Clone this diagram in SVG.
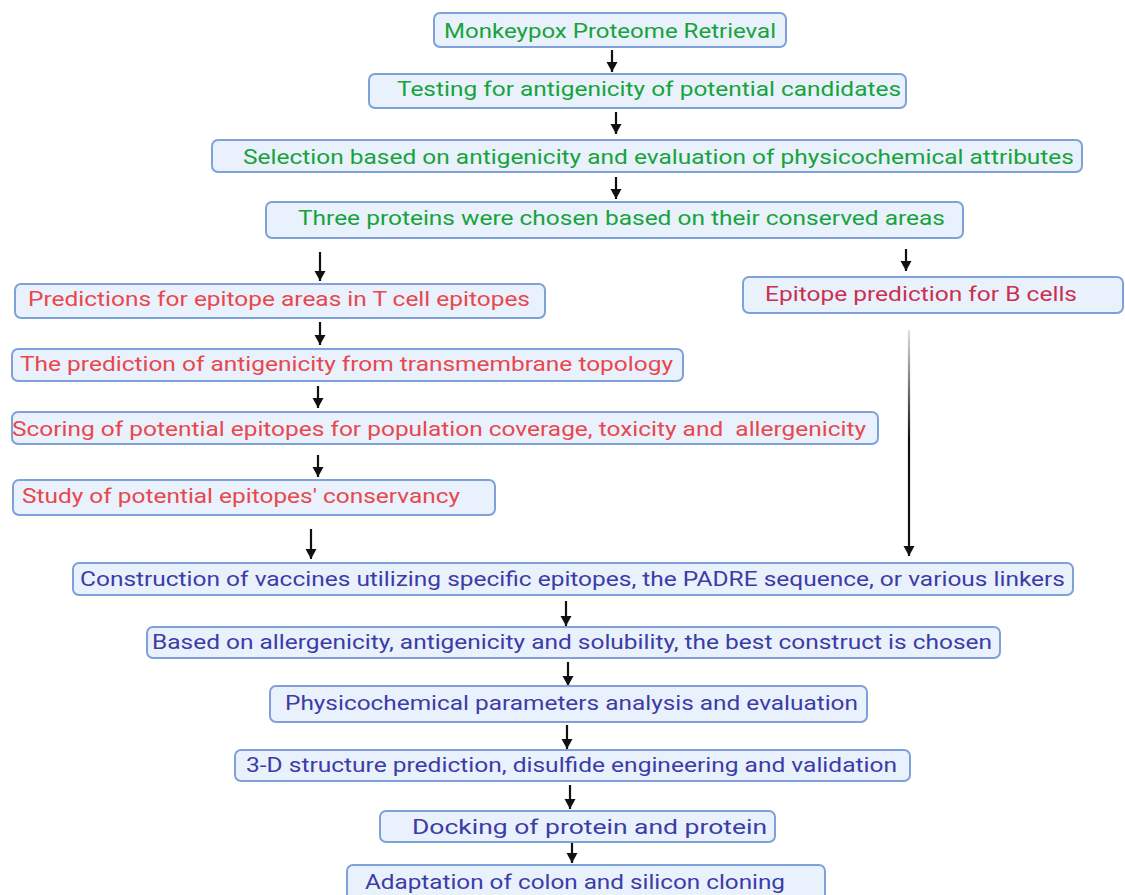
<svg xmlns="http://www.w3.org/2000/svg" width="1125" height="895" viewBox="0 0 1125 895">
<style>
.box{fill:#e9f1fc;stroke:#7ea2d8;stroke-width:2}
text{font-family:Roboto,"Liberation Sans",sans-serif;font-size:20px;white-space:pre}
.g{fill:#17a33b}
.r{fill:#e8474d}
.c{fill:#c9314f}
.b{fill:#3c3ca6}
</style>
<defs>
<marker id="ah2" markerUnits="userSpaceOnUse" markerWidth="14" markerHeight="14" viewBox="0 0 14 14" refX="12" refY="7" orient="auto">
<path d="M2,1.5 L12,7 L2,12.5 Z" fill="#111"/>
</marker>
<linearGradient id="fade" gradientUnits="userSpaceOnUse" x1="0" y1="330" x2="0" y2="440">
<stop offset="0" stop-color="#e0e0e0"/>
<stop offset="1" stop-color="#111"/>
</linearGradient>
</defs>
<g id="connectors" stroke="#111" stroke-width="2.2" fill="none">
<line x1="612" y1="50" x2="612" y2="72" marker-end="url(#ah2)"/>
<line x1="616" y1="112" x2="616" y2="134" marker-end="url(#ah2)"/>
<line x1="616" y1="177" x2="616" y2="199" marker-end="url(#ah2)"/>
<line x1="320" y1="252" x2="320" y2="281" marker-end="url(#ah2)"/>
<line x1="906" y1="249" x2="906" y2="271" marker-end="url(#ah2)"/>
<line x1="320" y1="322" x2="320" y2="345" marker-end="url(#ah2)"/>
<line x1="318" y1="386" x2="318" y2="408" marker-end="url(#ah2)"/>
<line x1="318" y1="455" x2="318" y2="477" marker-end="url(#ah2)"/>
<line x1="311" y1="529" x2="311" y2="559" marker-end="url(#ah2)"/>
<line x1="909" y1="330" x2="909" y2="556" stroke="url(#fade)" marker-end="url(#ah2)"/>
<line x1="566" y1="601" x2="566" y2="626" marker-end="url(#ah2)"/>
<line x1="568" y1="662" x2="568" y2="686" marker-end="url(#ah2)"/>
<line x1="567" y1="725" x2="567" y2="749" marker-end="url(#ah2)"/>
<line x1="570" y1="785" x2="570" y2="809" marker-end="url(#ah2)"/>
<line x1="572" y1="840" x2="572" y2="863" marker-end="url(#ah2)"/>
</g>
<g id="n1"><rect class="box" x="434" y="13" width="352" height="34" rx="6"/><text class="g" x="444" y="38" textLength="332" lengthAdjust="spacingAndGlyphs">Monkeypox Proteome Retrieval</text></g>
<g id="n2"><rect class="box" x="369" y="74" width="537" height="34" rx="6"/><text class="g" x="397" y="96" textLength="504" lengthAdjust="spacingAndGlyphs">Testing for antigenicity of potential candidates</text></g>
<g id="n3"><rect class="box" x="212" y="140" width="870" height="32" rx="6"/><text class="g" x="243" y="164" textLength="831" lengthAdjust="spacingAndGlyphs">Selection based on antigenicity and evaluation of physicochemical attributes</text></g>
<g id="n4"><rect class="box" x="266" y="202" width="697" height="36" rx="6"/><text class="g" x="298" y="225" textLength="647" lengthAdjust="spacingAndGlyphs">Three proteins were chosen based on their conserved areas</text></g>
<g id="t1"><rect class="box" x="15" y="284" width="530" height="34" rx="6"/><text class="r" x="28" y="306" textLength="502" lengthAdjust="spacingAndGlyphs">Predictions for epitope areas in T cell epitopes</text></g>
<g id="b1"><rect class="box" x="743" y="277" width="380" height="36" rx="6"/><text class="c" x="765" y="301" textLength="312" lengthAdjust="spacingAndGlyphs">Epitope prediction for B cells</text></g>
<g id="t2"><rect class="box" x="12" y="349" width="671" height="32" rx="6"/><text class="r" x="20" y="371" textLength="653" lengthAdjust="spacingAndGlyphs">The prediction of antigenicity from transmembrane topology</text></g>
<g id="t3"><rect class="box" x="12" y="412" width="866" height="32" rx="6"/><text class="r" x="12" y="436" textLength="854" lengthAdjust="spacingAndGlyphs" xml:space="preserve">Scoring of potential epitopes for population coverage, toxicity and  allergenicity</text></g>
<g id="t4"><rect class="box" x="13" y="480" width="482" height="35" rx="6"/><text class="r" x="22" y="503" textLength="438" lengthAdjust="spacingAndGlyphs">Study of potential epitopes' conservancy</text></g>
<g id="v1"><rect class="box" x="73" y="563" width="1000" height="32" rx="6"/><text class="b" x="80" y="586" textLength="985" lengthAdjust="spacingAndGlyphs">Construction of vaccines utilizing specific epitopes, the PADRE sequence, or various linkers</text></g>
<g id="v2"><rect class="box" x="147" y="627" width="853" height="31" rx="6"/><text class="b" x="152" y="649" textLength="840" lengthAdjust="spacingAndGlyphs">Based on allergenicity, antigenicity and solubility, the best construct is chosen</text></g>
<g id="v3"><rect class="box" x="270" y="686" width="597" height="36" rx="6"/><text class="b" x="285" y="710" textLength="573" lengthAdjust="spacingAndGlyphs">Physicochemical parameters analysis and evaluation</text></g>
<g id="v4"><rect class="box" x="235" y="750" width="675" height="31" rx="6"/><text class="b" x="246" y="772" textLength="651" lengthAdjust="spacingAndGlyphs">3-D structure prediction, disulfide engineering and validation</text></g>
<g id="v5"><rect class="box" x="380" y="811" width="395" height="31" rx="6"/><text class="b" x="412" y="834" textLength="355" lengthAdjust="spacingAndGlyphs">Docking of protein and protein</text></g>
<g id="v6"><rect class="box" x="347" y="865" width="478" height="40" rx="6"/><text class="b" x="365" y="889" textLength="420" lengthAdjust="spacingAndGlyphs">Adaptation of colon and silicon cloning</text></g>
</svg>
